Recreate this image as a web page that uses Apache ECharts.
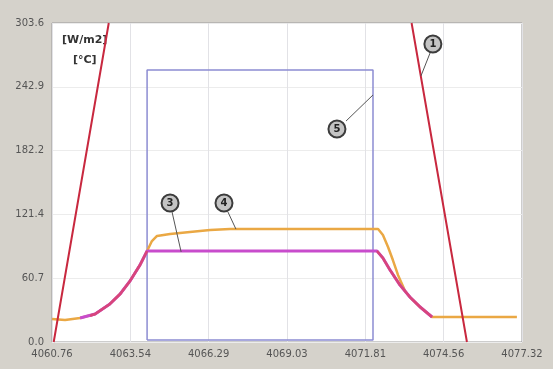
<!DOCTYPE html>
<html>
<head>
<meta charset="utf-8">
<script src="https://cdn.jsdelivr.net/npm/echarts@6/dist/echarts.min.js"></script>
<style>html,body{margin:0;padding:0;background:#d5d2cb;}#c{width:553px;height:369px;}</style>
</head>
<body>
<div id="c"></div>
<script>
// ---- axis ticks ----
const X0 = 4060.76;
const xStep = 2.76;
const xMaxOffset = 16.56;
const xTickLabels = ['4060.76','4063.54','4066.29','4069.03','4071.81','4074.56','4077.32'];
const yMax = 303.6;
const yStep = 60.72;
const yTickLabels = ['0.0','60.7','121.4','182.2','242.9','303.6'];

// ---- curve ① (red, steep lines) ----
const c1LeftX  = [4060.82, 4062.76];
const c1LeftY  = [0, 303.6];
const c1RightX = [4073.43, 4075.38];
const c1RightY = [303.6, 0];

// ---- curve ④ (orange) ----
const c4X = [4060.76,4061.22,4061.75,4062.28,4062.80,4063.16,4063.51,4063.86,4064.11,4064.28,4064.46,4064.92,4065.62,4066.33,4067.03,4072.25,4072.42,4072.60,4072.77,4072.95,4073.20,4073.37,4073.73,4074.15,4077.14];
const c4Y = [21.9,20.9,22.8,26.6,36.2,45.7,58.1,73.3,86.6,96.1,100.9,102.8,104.7,106.6,107.5,107.5,101.8,90.4,78.0,63.8,48.5,42.8,33.3,23.8,23.8];

// ---- curve ③ (magenta) ----
const c3X = [4061.75,4062.28,4062.80,4063.16,4063.51,4063.86,4064.11,4072.21,4072.42,4072.67,4073.02,4073.37,4073.73,4074.15];
const c3Y = [22.8,26.6,36.2,45.7,58.1,73.3,86.6,86.6,79.9,68.5,54.2,42.8,33.3,23.8];

// ---- reddish ramps overlaying the slopes ----
const rampUpX = [4062.10,4062.28,4062.80,4063.16,4063.51,4063.86,4064.11];
const rampUpY = [25.0,26.6,36.2,45.7,58.1,73.3,86.6];
const rampDnX = [4072.21,4072.42,4072.67,4073.02,4073.37,4073.73,4074.15];
const rampDnY = [86.6,79.9,68.5,54.2,42.8,33.3,23.8];

// ---- ⑤ rectangle ----
const rectX = [4064.11, 4072.07];
const rectY = [1.9, 258.9];

// ---- annotation circles and leaders ----
const annLabels = ['1','3','4','5'];
const annX = [4074.18, 4064.92, 4066.82, 4070.80];
const annY = [283.6, 132.3, 132.3, 202.7];
const leadFromX = [4074.08, 4064.99, 4066.96, 4071.12];
const leadFromY = [275.0, 123.7, 123.7, 210.3];
const leadToX   = [4073.76, 4065.31, 4067.24, 4072.07];
const leadToY   = [253.2, 85.7, 107.5, 235.1];

const unitLines = ['[W/m2]', '[°C]'];

function pts(xs, ys){ return xs.map((x,i)=>[x - X0, ys[i]]); }

const c1Data = pts(c1LeftX, c1LeftY).concat([[null,null]]).concat(pts(c1RightX, c1RightY));
const rampData = pts(rampUpX, rampUpY).concat([[null,null]]).concat(pts(rampDnX, rampDnY));
const rectData = pts([rectX[0],rectX[1],rectX[1],rectX[0],rectX[0]], [rectY[0],rectY[0],rectY[1],rectY[1],rectY[0]]);

const chart = echarts.init(document.getElementById('c'), null, {renderer:'canvas'});
chart.setOption({
  backgroundColor: '#d5d2cb',
  animation: false,
  grid: {left: 52, right: 31, top: 23, bottom: 27, show: true, backgroundColor: '#ffffff', borderColor: '#9a9a9a', borderWidth: 1},
  xAxis: {
    type: 'value', min: 0, max: xMaxOffset, interval: xStep,
    axisLine: {show: false}, axisTick: {show: false},
    splitLine: {show: true, lineStyle: {color: '#e2e2e6', width: 1}},
    axisLabel: {color: '#555', fontSize: 10, fontFamily: 'DejaVu Sans', margin: 7,
      formatter: (v, i) => xTickLabels[i] || ''}
  },
  yAxis: {
    type: 'value', min: 0, max: yMax, interval: yStep,
    axisLine: {show: false}, axisTick: {show: false},
    splitLine: {show: true, lineStyle: {color: '#ececec', width: 1}},
    axisLabel: {color: '#555', fontSize: 10, fontFamily: 'DejaVu Sans', margin: 8,
      formatter: (v, i) => yTickLabels[i] || ''}
  },
  graphic: [{
    type: 'text', left: 62, top: 35,
    style: {text: unitLines[0], font: 'bold 11px DejaVu Sans', fill: '#333'}
  },{
    type: 'text', left: 73, top: 55,
    style: {text: unitLines[1], font: 'bold 11px DejaVu Sans', fill: '#333'}
  }],
  series: [
    {name: '⑤', type: 'line', data: rectData, symbol: 'none', lineStyle: {color: '#8c8cd2', width: 1.5}, z: 2},
    {name: '④', type: 'line', data: pts(c4X, c4Y), symbol: 'none', lineStyle: {color: '#eaa844', width: 2.5}, z: 3},
    {name: '③', type: 'line', data: pts(c3X, c3Y), symbol: 'none', lineStyle: {color: '#c84ccc', width: 3}, z: 4},
    {name: 'ramp', type: 'line', data: rampData, symbol: 'none', connectNulls: false, lineStyle: {color: '#d8457a', width: 2.5}, z: 5},
    {name: '①', type: 'line', data: c1Data, symbol: 'none', connectNulls: false, lineStyle: {color: '#c8283f', width: 2}, z: 6},
    {name: 'leaders', type: 'lines', coordinateSystem: 'cartesian2d', z: 7,
      lineStyle: {color: '#555', width: 1, opacity: 1},
      data: leadFromX.map((x,i)=>({coords: [[x - X0, leadFromY[i]], [leadToX[i] - X0, leadToY[i]]]}))},
    {name: 'circles', type: 'scatter', z: 8, symbol: 'circle', symbolSize: 17,
      data: pts(annX, annY),
      itemStyle: {color: '#c4c4c4', borderColor: '#3c3c3c', borderWidth: 2, opacity: 1},
      label: {show: true, position: 'inside', formatter: p => annLabels[p.dataIndex], color: '#222', fontSize: 10, fontWeight: 'bold', fontFamily: 'DejaVu Sans'}}
  ]
});
</script>
</body>
</html>
